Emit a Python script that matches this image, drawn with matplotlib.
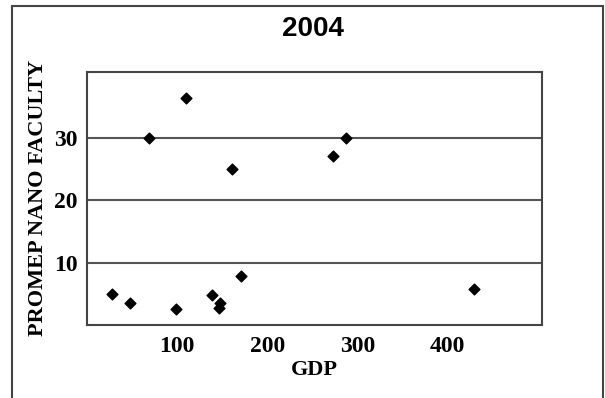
import matplotlib
matplotlib.use("Agg")
import matplotlib.pyplot as plt
from matplotlib.patches import Rectangle

# GDP vs PROMEP nano faculty, 2004
gdp = [28, 48, 99, 139, 148, 147, 171, 429, 110, 69, 161, 273, 288]
faculty = [5.0, 3.6, 2.5, 4.8, 3.6, 2.7, 7.8, 5.7, 36.3, 29.9, 25.0, 27.1, 30.0]

xticks = [100, 200, 300, 400]
yticks = [10, 20, 30]

serif = ["Liberation Serif", "DejaVu Serif"]

fig = plt.figure(figsize=(6.05, 3.98), dpi=100)
fig.patches.append(Rectangle((12 / 605, -0.1), 591 / 605, 1.1 - 6 / 398,
                             transform=fig.transFigure, fill=False,
                             edgecolor="#444444", linewidth=1.5))

ax = fig.add_axes([87 / 605, 73 / 398, 455 / 605, 253 / 398])
ax.scatter(gdp, faculty, marker="D", s=30, color="black", zorder=3)

ax.set_xlim(0, 505)
ax.set_ylim(0, 40.5)
ax.set_xticks(xticks)
ax.set_yticks(yticks)
ax.tick_params(axis="x", length=0, pad=8)
ax.tick_params(axis="y", length=0, pad=7)
for lab in ax.get_xticklabels() + ax.get_yticklabels():
    lab.set_fontfamily(serif)
    lab.set_fontweight("bold")
    lab.set_fontsize(17)

ax.grid(axis="y", color="#555555", linewidth=1.5)
for s in ax.spines.values():
    s.set_color("#444444")
    s.set_linewidth(1.5)

ax.set_xlabel("GDP", fontfamily=serif, fontweight="bold", fontsize=16, labelpad=2)
ax.set_ylabel("PROMEP NANO FACULTY", fontfamily=serif, fontweight="bold",
              fontsize=16, labelpad=4)
fig.text(313 / 605, 1 - 29 / 398, "2004", ha="center", va="center",
         fontfamily="Liberation Sans", fontweight="bold", fontsize=20)

fig.savefig("out.png", dpi=100)
